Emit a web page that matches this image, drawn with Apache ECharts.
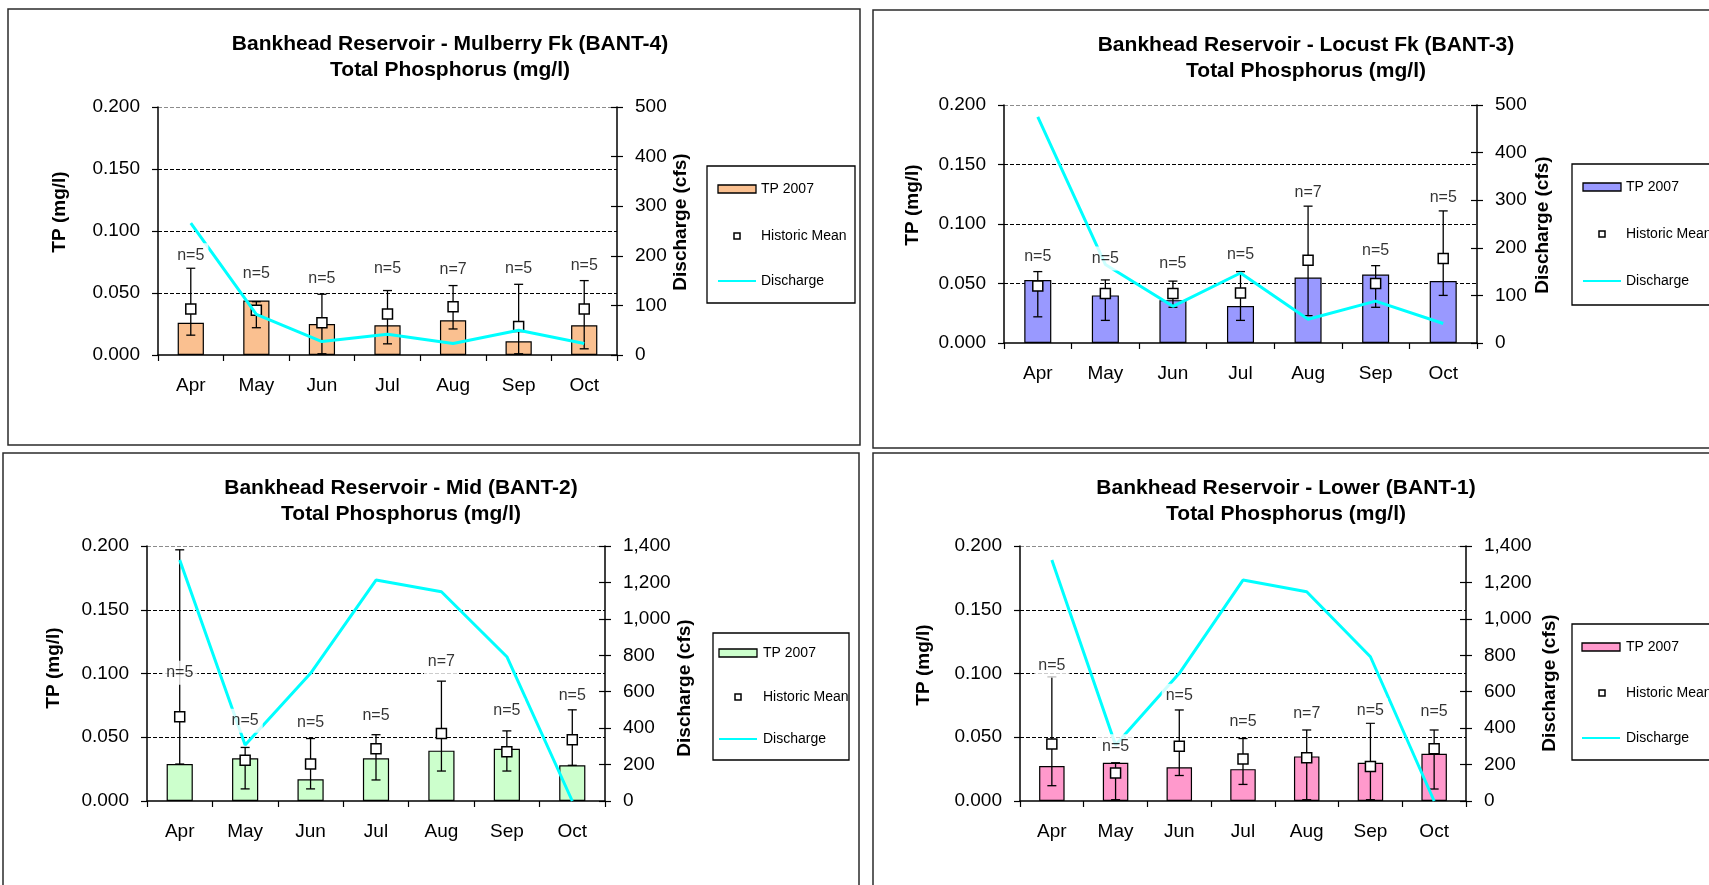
<!DOCTYPE html>
<html><head><meta charset="utf-8">
<script src="https://cdn.jsdelivr.net/npm/echarts@6/dist/echarts.min.js"></script>
<style>html,body{margin:0;padding:0;background:#fff;overflow:hidden}#c{width:1709px;height:885px}</style>
</head><body><div id="c"></div>
<script>
// ---------- DATA ----------
const months = ['Apr', 'May', 'Jun', 'Jul', 'Aug', 'Sep', 'Oct'];

// BANT-4 Mulberry Fk
const tp4   = [0.026, 0.044, 0.025, 0.024, 0.028, 0.011, 0.024];
const hist4 = [0.037, 0.036, 0.026, 0.033, 0.039, 0.023, 0.037];
const hi4   = [0.070, 0.043, 0.049, 0.052, 0.056, 0.057, 0.060];
const lo4   = [0.016, 0.022, 0.001, 0.009, 0.021, 0.001, 0.005];
const q4    = [266, 82, 27, 42, 23, 50, 23];
const n4    = ['n=5', 'n=5', 'n=5', 'n=5', 'n=7', 'n=5', 'n=5'];
const nAt4  = [0.0805, 0.066, 0.062, 0.0695, 0.069, 0.0695, 0.072];

// BANT-3 Locust Fk
const tp3   = [0.053, 0.040, 0.036, 0.031, 0.055, 0.0575, 0.052];
const hist3 = [0.048, 0.0415, 0.0415, 0.042, 0.0695, 0.050, 0.071];
const hi3   = [0.060, 0.053, 0.052, 0.060, 0.115, 0.065, 0.111];
const lo3   = [0.022, 0.019, 0.030, 0.019, 0.023, 0.030, 0.040];
const q3    = [475, 165, 77, 147, 50, 88, 41];
const n3    = ['n=5', 'n=5', 'n=5', 'n=5', 'n=7', 'n=5', 'n=5'];
const nAt3  = [0.073, 0.071, 0.067, 0.0745, 0.126, 0.078, 0.122];

// BANT-2 Mid
const tp2   = [0.029, 0.0335, 0.017, 0.0335, 0.0395, 0.041, 0.028];
const hist2 = [0.066, 0.032, 0.029, 0.041, 0.053, 0.0387, 0.048];
const hi2   = [0.197, 0.042, 0.049, 0.052, 0.094, 0.055, 0.0715];
const lo2   = [0.029, 0.0095, 0.0095, 0.0165, 0.0235, 0.0235, 0.028];
const q2    = [1323, 307, 701, 1213, 1149, 792, 0];
const n2    = ['n=5', 'n=5', 'n=5', 'n=5', 'n=7', 'n=5', 'n=5'];
const nAt2  = [0.1006, 0.063, 0.0615, 0.067, 0.109, 0.071, 0.0826];

// BANT-1 Lower
const tp1   = [0.0275, 0.030, 0.0265, 0.025, 0.035, 0.030, 0.037];
const hist1 = [0.0447, 0.022, 0.043, 0.033, 0.034, 0.027, 0.041];
const hi1   = [0.0975, 0.030, 0.0714, 0.049, 0.0557, 0.061, 0.0557];
const lo1   = [0.012, 0.001, 0.020, 0.013, 0.001, 0.001, 0.0094];
const q1    = [1323, 307, 701, 1213, 1149, 792, 0];
const n1    = ['n=5', 'n=5', 'n=5', 'n=5', 'n=7', 'n=5', 'n=5'];
const nAt1  = [0.106, 0.043, 0.0826, 0.062, 0.0688, 0.071, 0.070];

const tpTicks = [0, 0.05, 0.1, 0.15, 0.2];

// ---------- LAYOUT ----------
const FONT = "'Liberation Sans', Arial, sans-serif";
const panels = [
  {t1: 'Bankhead Reservoir - Mulberry Fk (BANT-4)', color: '#FAC090',
   tp: tp4, hist: hist4, hi: hi4, lo: lo4, q: q4, n: n4, nAt: nAt4, qMax: 500, qInt: 100,
   grid: {left: 158, top: 107, width: 459, height: 248}, frame: [8, 9, 852, 436],
   tx: 450, ty: [44, 70], tpName: [60, 212], qName: [681, 222],
   leg: {box: [707, 166, 148, 137], sx: 718, ys: [189, 236, 281], mx: 737, tx: 761}},
  {t1: 'Bankhead Reservoir - Locust Fk (BANT-3)', color: '#9999FF',
   tp: tp3, hist: hist3, hi: hi3, lo: lo3, q: q3, n: n3, nAt: nAt3, qMax: 500, qInt: 100,
   grid: {left: 1004, top: 105, width: 473, height: 238}, frame: [873, 10, 900, 438],
   tx: 1306, ty: [45, 71], tpName: [913, 205], qName: [1543, 225],
   leg: {box: [1572, 164, 170, 141], sx: 1583, ys: [187, 234, 281], mx: 1602, tx: 1626}},
  {t1: 'Bankhead Reservoir - Mid (BANT-2)', color: '#CCFFCC',
   tp: tp2, hist: hist2, hi: hi2, lo: lo2, q: q2, n: n2, nAt: nAt2, qMax: 1400, qInt: 200,
   grid: {left: 147, top: 546, width: 458, height: 255}, frame: [3, 453, 856, 450],
   tx: 401, ty: [488, 514], tpName: [54, 668], qName: [685, 688],
   leg: {box: [713, 633, 136, 127], sx: 719, ys: [653, 697, 739], mx: 738, tx: 763}},
  {t1: 'Bankhead Reservoir - Lower (BANT-1)', color: '#FF99CC',
   tp: tp1, hist: hist1, hi: hi1, lo: lo1, q: q1, n: n1, nAt: nAt1, qMax: 1400, qInt: 200,
   grid: {left: 1020, top: 546, width: 446, height: 255}, frame: [873, 453, 900, 450],
   tx: 1286, ty: [488, 514], tpName: [924, 665], qName: [1550, 683],
   leg: {box: [1572, 624, 170, 136], sx: 1582, ys: [647, 693, 738], mx: 1602, tx: 1626}}
];

function errItem(params, api) {
  const x = api.value(0);
  const a = api.coord([x, api.value(1)]);
  const b = api.coord([x, api.value(2)]);
  const h = 4.5;
  const st = {stroke: '#000', lineWidth: 1.3};
  return {type: 'group', children: [
    {type: 'line', shape: {x1: a[0], y1: a[1], x2: b[0], y2: b[1]}, style: st},
    {type: 'line', shape: {x1: a[0] - h, y1: a[1], x2: a[0] + h, y2: a[1]}, style: st},
    {type: 'line', shape: {x1: b[0] - h, y1: b[1], x2: b[0] + h, y2: b[1]}, style: st}
  ]};
}

const option = {animation: false, grid: [], xAxis: [], yAxis: [], series: [], graphic: []};

panels.forEach((p, k) => {
  const base = k * 3;
  option.grid.push(Object.assign({show: false}, p.grid));
  option.xAxis.push({
    type: 'category', gridIndex: k, data: months, boundaryGap: true,
    axisLine: {lineStyle: {color: '#000', width: 1.5}},
    axisTick: {show: true, length: 6, interval: 0, alignWithLabel: false, lineStyle: {color: '#000', width: 1.2}},
    axisLabel: {color: '#000', fontSize: 19, fontFamily: FONT, margin: 21, interval: 0},
    splitLine: {show: false}
  });
  option.yAxis.push({
    type: 'value', gridIndex: k, position: 'left', min: tpTicks[0], max: tpTicks[tpTicks.length - 1], interval: 0.05,
    axisLine: {show: true, lineStyle: {color: '#000', width: 1.5}},
    axisTick: {show: true, length: 6, lineStyle: {color: '#000', width: 1.2}},
    axisLabel: {formatter: v => v.toFixed(3), fontSize: 19, color: '#000', fontFamily: FONT, margin: 18},
    splitLine: {show: true, lineStyle: {type: [4, 2], width: 1, color: ['rgba(0,0,0,0)', '#000', '#000', '#000', '#8c8c8c']}}
  });
  option.yAxis.push({
    type: 'value', gridIndex: k, position: 'right', min: 0, max: p.qMax, interval: p.qInt,
    axisLine: {show: true, lineStyle: {color: '#000', width: 1.5}},
    axisTick: {show: true, length: 6, lineStyle: {color: '#000', width: 1.2}},
    axisLabel: {formatter: v => v.toLocaleString('en-US'), fontSize: 19, color: '#000', fontFamily: FONT, margin: 18},
    splitLine: {show: false}
  });
  option.yAxis.push({
    type: 'value', gridIndex: k, position: 'right', min: 0, max: p.qMax, interval: p.qInt,
    axisLine: {show: false},
    axisTick: {show: true, inside: true, length: 6, lineStyle: {color: '#000', width: 1.2}},
    axisLabel: {show: false}, splitLine: {show: false}
  });

  option.series.push({
    type: 'bar', name: 'TP 2007', xAxisIndex: k, yAxisIndex: base, data: p.tp, barWidth: '40%',
    itemStyle: {color: p.color, borderColor: '#000', borderWidth: 1.2}, z: 2
  });
  option.series.push({
    type: 'custom', xAxisIndex: k, yAxisIndex: base, renderItem: errItem,
    data: p.lo.map((l, i) => [i, l, p.hi[i]]), encode: {x: 0, y: [1, 2]}, z: 3
  });
  option.series.push({
    type: 'scatter', name: 'Historic Mean', xAxisIndex: k, yAxisIndex: base,
    data: p.hist.map((v, i) => [i, v]), symbol: 'rect', symbolSize: 10,
    itemStyle: {color: '#fff', borderColor: '#000', borderWidth: 1.5, opacity: 1}, z: 4
  });
  option.series.push({
    type: 'line', name: 'Discharge', xAxisIndex: k, yAxisIndex: base + 1, data: p.q,
    symbol: 'none', lineStyle: {color: '#00FFFF', width: 3}, z: 5
  });
  option.series.push({
    type: 'scatter', xAxisIndex: k, yAxisIndex: base, symbolSize: 1,
    itemStyle: {color: 'rgba(0,0,0,0)'},
    data: p.nAt.map((v, i) => [i, v]), z: 6,
    label: {show: true, position: 'inside', formatter: d => p.n[d.dataIndex], color: '#000',
            fontSize: 16, fontFamily: FONT, backgroundColor: '#fff', padding: [5, 4, 3, 4]}
  });

  const g = option.graphic;
  const f = p.frame;
  g.push({type: 'rect', shape: {x: f[0], y: f[1], width: f[2], height: f[3]},
          style: {fill: 'none', stroke: '#2b2b2b', lineWidth: 1.5}, z: 1});
  g.push({type: 'text', x: p.tx, y: p.ty[0], z: 10,
          style: {text: p.t1, font: 'bold 21px ' + FONT, fill: '#000', textAlign: 'center', textVerticalAlign: 'middle', align: 'center', verticalAlign: 'middle'}});
  g.push({type: 'text', x: p.tx, y: p.ty[1], z: 10,
          style: {text: 'Total Phosphorus (mg/l)', font: 'bold 21px ' + FONT, fill: '#000', textAlign: 'center', textVerticalAlign: 'middle', align: 'center', verticalAlign: 'middle'}});
  g.push({type: 'text', x: p.tpName[0], y: p.tpName[1], rotation: Math.PI / 2, z: 10,
          style: {text: 'TP (mg/l)', font: 'bold 19px ' + FONT, fill: '#000', textAlign: 'center', textVerticalAlign: 'middle', align: 'center', verticalAlign: 'middle'}});
  g.push({type: 'text', x: p.qName[0], y: p.qName[1], rotation: Math.PI / 2, z: 10,
          style: {text: 'Discharge (cfs)', font: 'bold 19px ' + FONT, fill: '#000', textAlign: 'center', textVerticalAlign: 'middle', align: 'center', verticalAlign: 'middle'}});
  const L = p.leg;
  g.push({type: 'rect', shape: {x: L.box[0], y: L.box[1], width: L.box[2], height: L.box[3]},
          style: {fill: '#fff', stroke: '#000', lineWidth: 1.3}, z: 10});
  g.push({type: 'rect', shape: {x: L.sx, y: L.ys[0] - 4, width: 38, height: 8},
          style: {fill: p.color, stroke: '#000', lineWidth: 1.3}, z: 11});
  g.push({type: 'rect', shape: {x: L.mx - 3, y: L.ys[1] - 3, width: 6, height: 6},
          style: {fill: '#fff', stroke: '#000', lineWidth: 1.5}, z: 11});
  g.push({type: 'line', shape: {x1: L.sx, y1: L.ys[2], x2: L.sx + 38, y2: L.ys[2]},
          style: {stroke: '#00FFFF', lineWidth: 2}, z: 11});
  ['TP 2007', 'Historic Mean', 'Discharge'].forEach((t, i) => {
    g.push({type: 'text', x: L.tx, y: L.ys[i], z: 11,
            style: {text: t, font: '14px ' + FONT, fill: '#000', textAlign: 'left', textVerticalAlign: 'middle', align: 'left', verticalAlign: 'middle'}});
  });
});

const chart = echarts.init(document.getElementById('c'), null, {renderer: 'canvas'});
chart.setOption(option);
</script>
</body></html>
